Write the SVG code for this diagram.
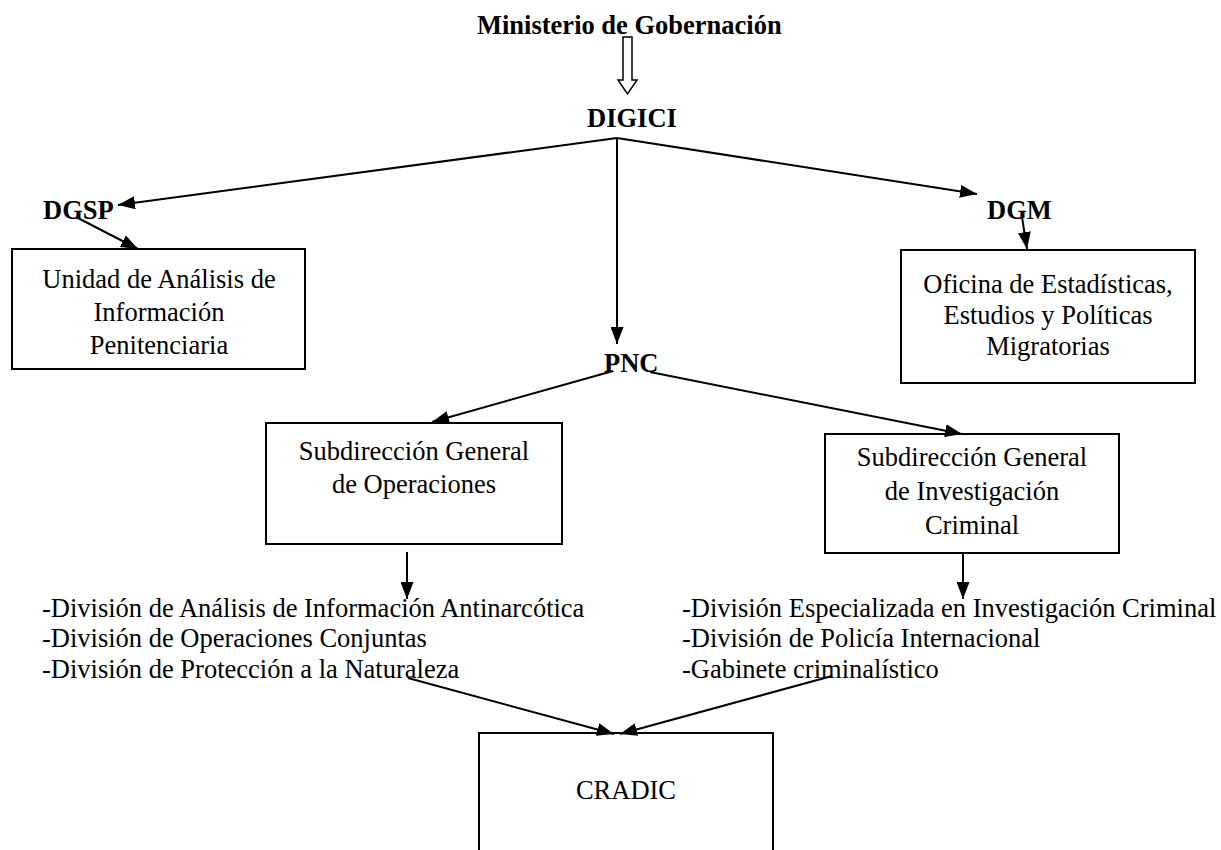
<svg xmlns="http://www.w3.org/2000/svg" width="1221" height="850" viewBox="0 0 1221 850">
<style>
text{font-family:"Liberation Serif","Times New Roman",serif;font-size:26.5px;fill:#000}
.b{font-weight:bold}
.c{text-anchor:middle}
.box{fill:#fff;stroke:#000;stroke-width:2}
.ln{fill:none;stroke:#000;stroke-width:2}
</style>
<defs>
<marker id="ah" markerUnits="userSpaceOnUse" markerWidth="17" markerHeight="13" refX="17" refY="6.5" orient="auto">
<path d="M0,0 L17,6.5 L0,13 z" fill="#000"/>
</marker>
</defs>
<rect width="1221" height="850" fill="#fff"/>

<g id="ministerio"><text class="b" x="477" y="34">Ministerio de Gobernación</text></g>
<g id="digici"><text class="b" x="587" y="127">DIGICI</text></g>
<g id="dgsp"><text class="b" x="43" y="219">DGSP</text></g>
<g id="dgm"><text class="b" x="987" y="219">DGM</text></g>
<g id="pnc"><text class="b" x="604" y="372">PNC</text></g>

<g id="unidad">
<rect class="box" x="12" y="249" width="293" height="120"/>
<text class="c" x="159" y="288">Unidad de Análisis de</text>
<text class="c" x="159" y="321">Información</text>
<text class="c" x="159" y="354">Penitenciaria</text>
</g>

<g id="oficina">
<rect class="box" x="901" y="250" width="294" height="133"/>
<text class="c" x="1048" y="293">Oficina de Estadísticas,</text>
<text class="c" x="1048" y="324">Estudios y Políticas</text>
<text class="c" x="1048" y="355">Migratorias</text>
</g>

<g id="sub-operaciones">
<rect class="box" x="266" y="423" width="296" height="121"/>
<text class="c" x="414" y="460">Subdirección General</text>
<text class="c" x="414" y="493">de Operaciones</text>
</g>

<g id="sub-investigacion">
<rect class="box" x="825" y="434" width="294" height="119"/>
<text class="c" x="972" y="466">Subdirección General</text>
<text class="c" x="972" y="500">de Investigación</text>
<text class="c" x="972" y="534">Criminal</text>
</g>

<g id="divisiones-operaciones">
<text x="42" y="617">-División de Análisis de Información Antinarcótica</text>
<text x="42" y="647">-División de Operaciones Conjuntas</text>
<text x="42" y="678">-División de Protección a la Naturaleza</text>
</g>

<g id="divisiones-investigacion">
<text x="682" y="617">-División Especializada en Investigación Criminal</text>
<text x="682" y="647">-División de Policía Internacional</text>
<text x="682" y="678">-Gabinete criminalístico</text>
</g>

<g id="cradic">
<rect class="box" x="479" y="733" width="294" height="130"/>
<text class="c" x="626" y="799">CRADIC</text>
</g>

<g id="connectors">
<polygon points="623,37 632,37 632,80 637,80 627.5,94 618,80 623,80" fill="#fff" stroke="#000" stroke-width="1.5"/>
<line class="ln" x1="617" y1="138" x2="118" y2="205" marker-end="url(#ah)"/>
<line class="ln" x1="617" y1="138" x2="977" y2="194" marker-end="url(#ah)"/>
<line class="ln" x1="617" y1="138" x2="617" y2="344" marker-end="url(#ah)"/>
<line class="ln" x1="76" y1="217" x2="138" y2="249" marker-end="url(#ah)"/>
<line class="ln" x1="1022" y1="217" x2="1027" y2="249" marker-end="url(#ah)"/>
<line class="ln" x1="613" y1="371" x2="432" y2="422" marker-end="url(#ah)"/>
<line class="ln" x1="650" y1="372" x2="962" y2="434" marker-end="url(#ah)"/>
<line class="ln" x1="407" y1="552" x2="407" y2="599" marker-end="url(#ah)"/>
<line class="ln" x1="963" y1="553" x2="963" y2="599" marker-end="url(#ah)"/>
<line class="ln" x1="408" y1="678" x2="614" y2="734" marker-end="url(#ah)"/>
<line class="ln" x1="832" y1="676" x2="620" y2="734" marker-end="url(#ah)"/>
</g>
</svg>
